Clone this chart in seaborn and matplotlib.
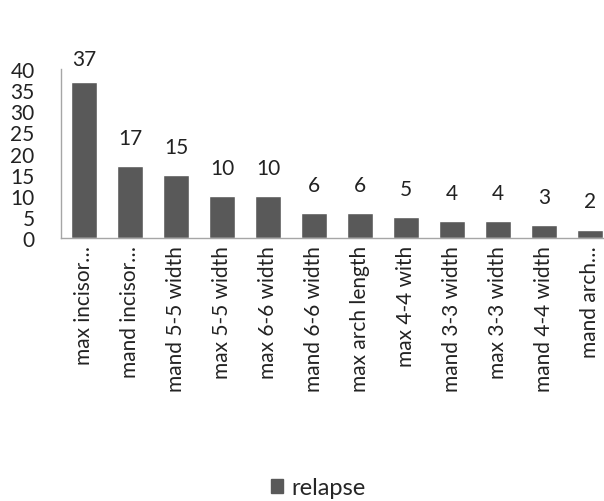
import pandas as pd
import seaborn as sns
import matplotlib.pyplot as plt
from matplotlib.patches import Patch

# 复发数据
categories = ['max incisor…', 'mand incisor…', 'mand 5-5 width', 'max 5-5 width',
              'max 6-6 width', 'mand 6-6 width', 'max arch length', 'max 4-4 with',
              'mand 3-3 width', 'max 3-3 width', 'mand 4-4 width', 'mand arch…']
relapse = [37, 17, 15, 10, 10, 6, 6, 5, 4, 4, 3, 2]

data = pd.DataFrame({'category': categories, 'relapse': relapse})

sns.set_style('white')
plt.rcParams['font.family'] = ['Lato', 'DejaVu Sans']

fig = plt.figure(figsize=(6.04, 5.02), dpi=100)
ax = fig.add_axes([61 / 604, 1 - 239 / 502, 552 / 604, 169 / 502])

bar_color = '#595959'
sns.barplot(x='category', y='relapse', data=data, color=bar_color,
            width=0.57, saturation=1, ax=ax)

for i, v in enumerate(relapse):
    ax.annotate(str(v), (i, v), xytext=(0, 9 if v > 30 else 13), textcoords='offset points',
                ha='center', va='bottom', fontsize=15, color='#222222')

ax.set_xlim(-0.5, len(categories) - 0.5)
ax.set_ylim(0, 40)
ax.set_yticks(range(0, 41, 5))
ax.tick_params(axis='y', labelsize=15, length=0, pad=19, colors='#222222')
ax.tick_params(axis='x', labelsize=15, length=0, pad=5, colors='#222222')
plt.setp(ax.get_xticklabels(), rotation=90, ha='center', va='top')
ax.set_xlabel('')
ax.set_ylabel('')

for side in ['top', 'right']:
    ax.spines[side].set_visible(False)
for side in ['left', 'bottom']:
    ax.spines[side].set_color('#a6a6a6')
    ax.spines[side].set_linewidth(1)

fig.legend(handles=[Patch(color=bar_color, label='relapse')], loc='center',
           bbox_to_anchor=(318 / 604, 1 - 489 / 502), frameon=False, fontsize=17,
           handlelength=0.5, handleheight=0.5, handletextpad=0.35)

fig.savefig('out.png', dpi=100)
